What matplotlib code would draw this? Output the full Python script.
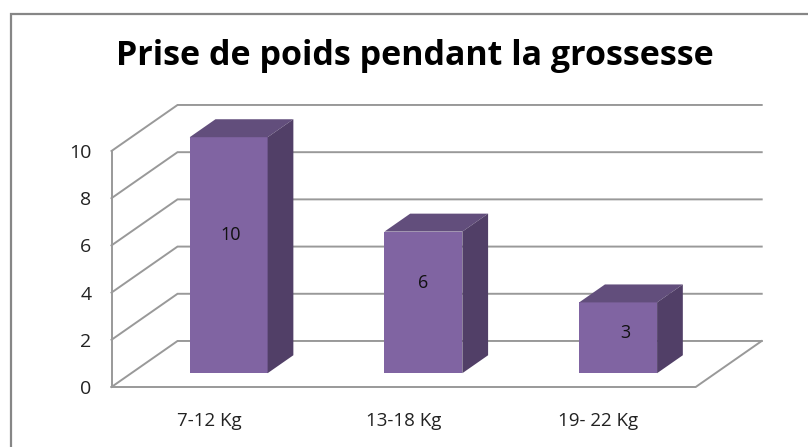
import matplotlib
matplotlib.use('Agg')
import matplotlib.pyplot as plt
from matplotlib.patches import Polygon, Rectangle

plt.rcParams['font.family'] = ['Open Sans', 'DejaVu Sans']

categories = ['7-12 Kg', '13-18 Kg', '19- 22 Kg']
values = [10, 6, 3]
y_ticks = [0, 2, 4, 6, 8, 10]
title = 'Prise de poids pendant la grossesse'

W, H = 808, 447
FRONT = '#8064a2'
TOP = '#624e7c'
SIDE = '#513f67'
GRID = '#999999'

# profondeur de la vue 3D, en unites des axes
DX = 0.339
DY = 1.95
D0, D1 = 0.30, 0.69
BAR_W = 0.40

# decalage des etiquettes par rapport au centre de la barre
LABEL_DX = [0.01, 0.0, 0.035]
LABEL_DY = [0.85, 0.82, 0.2]


def proj(x, y, d):
    return x + d * DX, y + d * DY


fig = plt.figure(figsize=(W / 100, H / 100), dpi=100)
fig.patches.append(Rectangle((10.5 / W, -0.02), (W + 20) / W, 1 - 13.5 / H + 0.02,
                             transform=fig.transFigure, fc='none', ec='#868686', lw=1.6))

ax = fig.add_axes([111.5 / W, 1 - 387 / H, 584.2 / W, 236 / H])
ax.set_xlim(-0.5, 2.5)
ax.set_ylim(0, 10)
ax.patch.set_visible(False)
for s in ax.spines.values():
    s.set_visible(False)

left, right = -0.5, 2.5

# grille : mur gauche + mur arriere
for t in y_ticks:
    xs, ys = zip(proj(left, t, 0), proj(left, t, 1), proj(right, t, 1))
    ax.plot(xs, ys, color=GRID, lw=1.4, clip_on=False, zorder=1, solid_joinstyle='miter')
xs, ys = zip(proj(left, 0, 0), proj(left, y_ticks[-1], 0))
ax.plot(xs, ys, color=GRID, lw=1.4, clip_on=False, zorder=1)

# sol
xs, ys = zip(proj(left, 0, 0), proj(right, 0, 0), proj(right, 0, 1))
ax.plot(xs, ys, color=GRID, lw=1.4, clip_on=False, zorder=1, solid_joinstyle='miter')

for i, v in enumerate(values):
    xl, xr = i - BAR_W / 2, i + BAR_W / 2
    fx, fy = proj(i, 0, D0)
    ax.bar(fx, v, BAR_W, bottom=fy, color=FRONT, lw=0, zorder=3, clip_on=False)
    ax.add_patch(Polygon([proj(xl, v, D0), proj(xr, v, D0), proj(xr, v, D1), proj(xl, v, D1)],
                         fc=TOP, ec='none', zorder=3, clip_on=False))
    ax.add_patch(Polygon([proj(xr, 0, D0), proj(xr, 0, D1), proj(xr, v, D1), proj(xr, v, D0)],
                         fc=SIDE, ec='none', zorder=3, clip_on=False))
    ax.text(fx + LABEL_DX[i], fy + v / 2 + LABEL_DY[i], str(v), ha='center', va='center',
            fontsize=13, color='#111111', zorder=4)

ax.set_xticks(range(len(categories)), categories)
ax.set_yticks(y_ticks)
ax.tick_params(length=0, labelcolor='#222222')
ax.tick_params(axis='x', pad=18, labelsize=13.5)
ax.tick_params(axis='y', pad=14.5, labelsize=14)

fig.text(415 / W, 1 - 56 / H, title, ha='center', va='center',
         fontsize=24.5, fontweight='bold', color='black')

plt.savefig('out.png', dpi=100)
